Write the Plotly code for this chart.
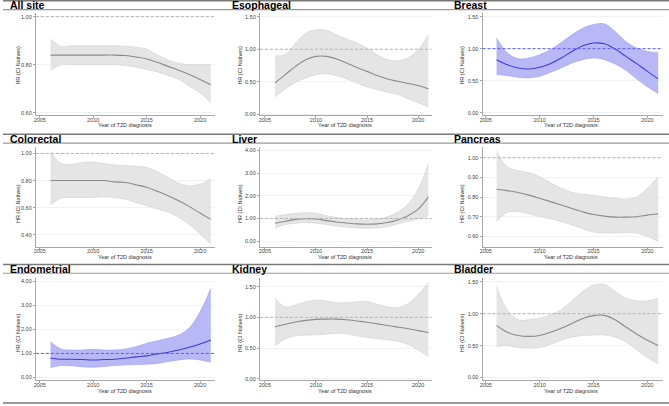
import plotly.graph_objects as go

W, H = 669, 406
years = list(range(2006, 2022))

titles = ["All site", "Esophageal", "Breast", "Colorectal", "Liver", "Pancreas",
          "Endometrial", "Kidney", "Bladder"]

allsite_hr = [0.84, 0.84, 0.84, 0.84, 0.84, 0.84, 0.84, 0.838, 0.832, 0.824, 0.81, 0.793, 0.777, 0.759, 0.738, 0.717]
allsite_hi = [0.906, 0.876, 0.879, 0.879, 0.879, 0.879, 0.879, 0.877, 0.873, 0.865, 0.84, 0.82, 0.806, 0.80, 0.80, 0.80]
allsite_lo = [0.776, 0.80, 0.80, 0.80, 0.80, 0.80, 0.80, 0.796, 0.79, 0.78, 0.77, 0.755, 0.739, 0.71, 0.683, 0.641]

esoph_hr = [0.483, 0.61, 0.737, 0.84, 0.89, 0.89, 0.85, 0.79, 0.72, 0.66, 0.595, 0.544, 0.508, 0.473, 0.442, 0.392]
esoph_hi = [0.90, 0.915, 1.094, 1.246, 1.297, 1.29, 1.22, 1.155, 1.10, 1.017, 0.915, 0.84, 0.824, 0.865, 0.99, 1.22]
esoph_lo = [0.27, 0.39, 0.49, 0.56, 0.61, 0.625, 0.595, 0.545, 0.483, 0.42, 0.38, 0.34, 0.305, 0.24, 0.178, 0.117]

breast_hr = [0.829, 0.75, 0.70, 0.684, 0.71, 0.767, 0.855, 0.957, 1.046, 1.088, 1.077, 0.995, 0.88, 0.767, 0.647, 0.53]
breast_hi = [1.165, 0.932, 0.844, 0.855, 0.906, 0.984, 1.097, 1.216, 1.32, 1.376, 1.387, 1.267, 1.112, 1.01, 0.957, 0.94]
breast_lo = [0.596, 0.58, 0.554, 0.545, 0.57, 0.632, 0.70, 0.777, 0.829, 0.855, 0.829, 0.762, 0.663, 0.53, 0.405, 0.30]

colo_hr = [0.80, 0.80, 0.80, 0.80, 0.80, 0.80, 0.79, 0.786, 0.769, 0.75, 0.72, 0.688, 0.65, 0.607, 0.56, 0.513]
colo_hi = [1.015, 0.926, 0.92, 0.934, 0.936, 0.926, 0.916, 0.91, 0.906, 0.897, 0.867, 0.823, 0.78, 0.76, 0.774, 0.81]
colo_lo = [0.62, 0.67, 0.675, 0.675, 0.675, 0.68, 0.675, 0.663, 0.638, 0.614, 0.59, 0.565, 0.528, 0.474, 0.405, 0.331]

liver_hr = [0.79, 0.876, 0.96, 0.99, 0.98, 0.905, 0.847, 0.80, 0.76, 0.745, 0.76, 0.82, 0.934, 1.12, 1.416, 1.956]
liver_hi = [1.095, 1.17, 1.226, 1.255, 1.226, 1.124, 1.05, 0.993, 0.964, 0.934, 0.978, 1.08, 1.27, 1.635, 2.29, 3.416]
liver_lo = [0.584, 0.73, 0.79, 0.817, 0.79, 0.73, 0.67, 0.613, 0.584, 0.57, 0.584, 0.642, 0.76, 0.876, 0.978, 1.124]

panc_hr = [0.84, 0.833, 0.823, 0.81, 0.794, 0.777, 0.76, 0.742, 0.725, 0.711, 0.703, 0.698, 0.698, 0.70, 0.708, 0.715]
panc_hi = [1.035, 0.954, 0.934, 0.924, 0.904, 0.873, 0.845, 0.824, 0.814, 0.809, 0.80, 0.794, 0.789, 0.80, 0.845, 0.904]
panc_lo = [0.676, 0.723, 0.726, 0.715, 0.70, 0.69, 0.676, 0.659, 0.639, 0.622, 0.617, 0.617, 0.62, 0.617, 0.60, 0.574]

endo_hr = [0.80, 0.76, 0.76, 0.745, 0.73, 0.745, 0.76, 0.80, 0.855, 0.897, 0.98, 1.05, 1.145, 1.255, 1.393, 1.56]
endo_hi = [1.49, 1.186, 1.145, 1.145, 1.17, 1.145, 1.145, 1.186, 1.283, 1.42, 1.53, 1.63, 1.766, 2.07, 2.73, 3.70]
endo_lo = [0.414, 0.497, 0.483, 0.441, 0.428, 0.455, 0.497, 0.524, 0.538, 0.552, 0.58, 0.662, 0.731, 0.772, 0.731, 0.634]

kid_hr = [0.847, 0.889, 0.925, 0.951, 0.967, 0.972, 0.972, 0.962, 0.941, 0.92, 0.894, 0.868, 0.842, 0.815, 0.784, 0.753]
kid_hi = [1.307, 1.171, 1.202, 1.255, 1.28, 1.265, 1.239, 1.239, 1.255, 1.255, 1.213, 1.171, 1.16, 1.223, 1.37, 1.568]
kid_lo = [0.544, 0.648, 0.70, 0.711, 0.716, 0.727, 0.742, 0.732, 0.70, 0.674, 0.653, 0.638, 0.612, 0.559, 0.47, 0.366]

blad_hr = [0.817, 0.708, 0.658, 0.644, 0.658, 0.708, 0.772, 0.847, 0.926, 0.97, 0.975, 0.906, 0.792, 0.683, 0.584, 0.50]
blad_hi = [1.426, 1.054, 0.906, 0.906, 0.93, 0.98, 1.064, 1.203, 1.351, 1.45, 1.46, 1.351, 1.243, 1.203, 1.203, 1.243]
blad_lo = [0.485, 0.50, 0.47, 0.46, 0.47, 0.52, 0.584, 0.634, 0.658, 0.668, 0.668, 0.634, 0.56, 0.436, 0.312, 0.213]

series = [(allsite_hr, allsite_lo, allsite_hi), (esoph_hr, esoph_lo, esoph_hi),
          (breast_hr, breast_lo, breast_hi), (colo_hr, colo_lo, colo_hi),
          (liver_hr, liver_lo, liver_hi), (panc_hr, panc_lo, panc_hi),
          (endo_hr, endo_lo, endo_hi), (kid_hr, kid_lo, kid_hi), (blad_hr, blad_lo, blad_hi)]

blue_panels = {2, 6}

ytick_vals = [[0.6, 0.8, 1.0], [0, 0.5, 1.0, 1.5], [0, 0.5, 1.0, 1.5],
              [0.4, 0.6, 0.8, 1.0], [0, 1, 2, 3, 4], [0.6, 0.7, 0.8, 0.9, 1.0],
              [0, 1, 2, 3, 4], [0, 0.5, 1.0, 1.5], [0, 0.5, 1.0, 1.5]]
xtick_vals = [2005, 2010, 2015, 2020]

yranges = [[0.589, 1.0153], [-0.016, 1.5565], [-0.04, 1.557],
           [0.31, 1.0464], [-0.25, 4.145], [0.547, 1.0537],
           [-0.11, 4.153], [-0.02, 1.646], [-0.042, 1.567]]
xranges = [[2004.63, 2021.4], [2004.51, 2021.31], [2004.70, 2021.42]]

# layout geometry (px)
col_px = [(33, 213), (258, 430.5), (481.7, 662.7)]
row_tops = [0, 134.3, 265]
row_dom = [(13, 116), (148, 248), (279, 382)]
xt_y = [126, 258, 393]
yt_x = [15, 238, 461]
yt_y = [65, 204, 334]
xt_x = [123, 344, 571]

def px(x):
    return x / W

def py(y):
    return 1 - y / H

fig = go.Figure()
layout = dict(width=W, height=H, margin=dict(l=0, r=0, t=0, b=0),
              paper_bgcolor="white", plot_bgcolor="white", showlegend=False,
              font=dict(family="Liberation Sans, Arial, sans-serif", color="#333"))
shapes = []
annotations = []

for i in range(9):
    r, c = divmod(i, 3)
    n = i + 1
    xa = "x" if n == 1 else f"x{n}"
    ya = "y" if n == 1 else f"y{n}"
    hr, lo, hi = series[i]
    blue = i in blue_panels
    fillc = "rgba(172,172,246,0.85)" if blue else "rgba(226,226,226,0.9)"
    edgec = "#9d9df0" if blue else "#d0d0d0"
    linec = "#3c3cdc" if blue else "#8a8a8a"
    fig.add_trace(go.Scatter(x=years, y=lo, mode="lines", line=dict(color=edgec, width=0.6, shape="spline"),
                             xaxis=xa, yaxis=ya, hoverinfo="skip"))
    fig.add_trace(go.Scatter(x=years, y=hi, mode="lines", line=dict(color=edgec, width=0.6, shape="spline"),
                             fill="tonexty", fillcolor=fillc, xaxis=xa, yaxis=ya, hoverinfo="skip"))
    fig.add_trace(go.Scatter(x=years, y=hr, mode="lines", line=dict(color=linec, width=1.1, shape="spline"),
                             xaxis=xa, yaxis=ya))
    x0, x1 = col_px[c]
    y0, y1 = row_dom[r]
    axcommon = dict(showline=True, linecolor="#a8a8a8", linewidth=1, ticks="outside",
                    ticklen=2, tickwidth=0.8, tickcolor="#a8a8a8",
                    tickfont=dict(size=5.5, color="#444"), zeroline=False)
    layout["xaxis" if n == 1 else f"xaxis{n}"] = dict(
        domain=[px(x0), px(x1)], range=xranges[c], anchor=ya, tickvals=xtick_vals,
        showgrid=False, ticklabelstandoff=-3, **axcommon)
    layout["yaxis" if n == 1 else f"yaxis{n}"] = dict(
        domain=[py(y1), py(y0)], range=yranges[i], anchor=xa, tickvals=ytick_vals[i],
        ticktext=[f"{v:.2f}" for v in ytick_vals[i]], showgrid=True, gridcolor="#eef3f3",
        gridwidth=0.6, **axcommon)
    shapes.append(dict(type="line", xref=f"{xa} domain", x0=0, x1=1, yref=ya, y0=1, y1=1,
                       line=dict(color="#5a5af0" if blue else "#b4b4b4", width=1, dash="3px,2px")))
    annotations.append(dict(text=f"<b>{titles[i]}</b>", x=px(c * 223 + 5), y=py(row_tops[r] + 5.5),
                            xref="paper", yref="paper", xanchor="left", yanchor="middle",
                            showarrow=False, font=dict(size=10.5, color="black",
                                                       family="Liberation Sans, Arial, sans-serif")))
    annotations.append(dict(text="Year of T2D diagnosis", x=px(xt_x[c]), y=py(xt_y[r]),
                            xref="paper", yref="paper", xanchor="center", yanchor="middle",
                            showarrow=False, font=dict(size=5.5, color="#333")))
    annotations.append(dict(text="HR (CI Natives)", x=px(yt_x[c]), y=py(yt_y[r]), textangle=-90,
                            xref="paper", yref="paper", xanchor="center", yanchor="middle",
                            showarrow=False, font=dict(size=5.5, color="#333")))

for r in range(3):
    t = row_tops[r]
    shapes.append(dict(type="line", xref="paper", yref="paper", x0=0, x1=1, y0=py(t + 0.7), y1=py(t + 0.7),
                       line=dict(color="#7a7a7a", width=1.5)))
    shapes.append(dict(type="line", xref="paper", yref="paper", x0=0, x1=1, y0=py(t + 9.6), y1=py(t + 9.6),
                       line=dict(color="#9a9a9a", width=1.2)))
shapes.append(dict(type="line", xref="paper", yref="paper", x0=0, x1=1, y0=py(405), y1=py(405),
                   line=dict(color="#7a7a7a", width=1.5)))

layout["shapes"] = shapes
layout["annotations"] = annotations
fig.update_layout(**layout)
fig.write_html("out.html")
